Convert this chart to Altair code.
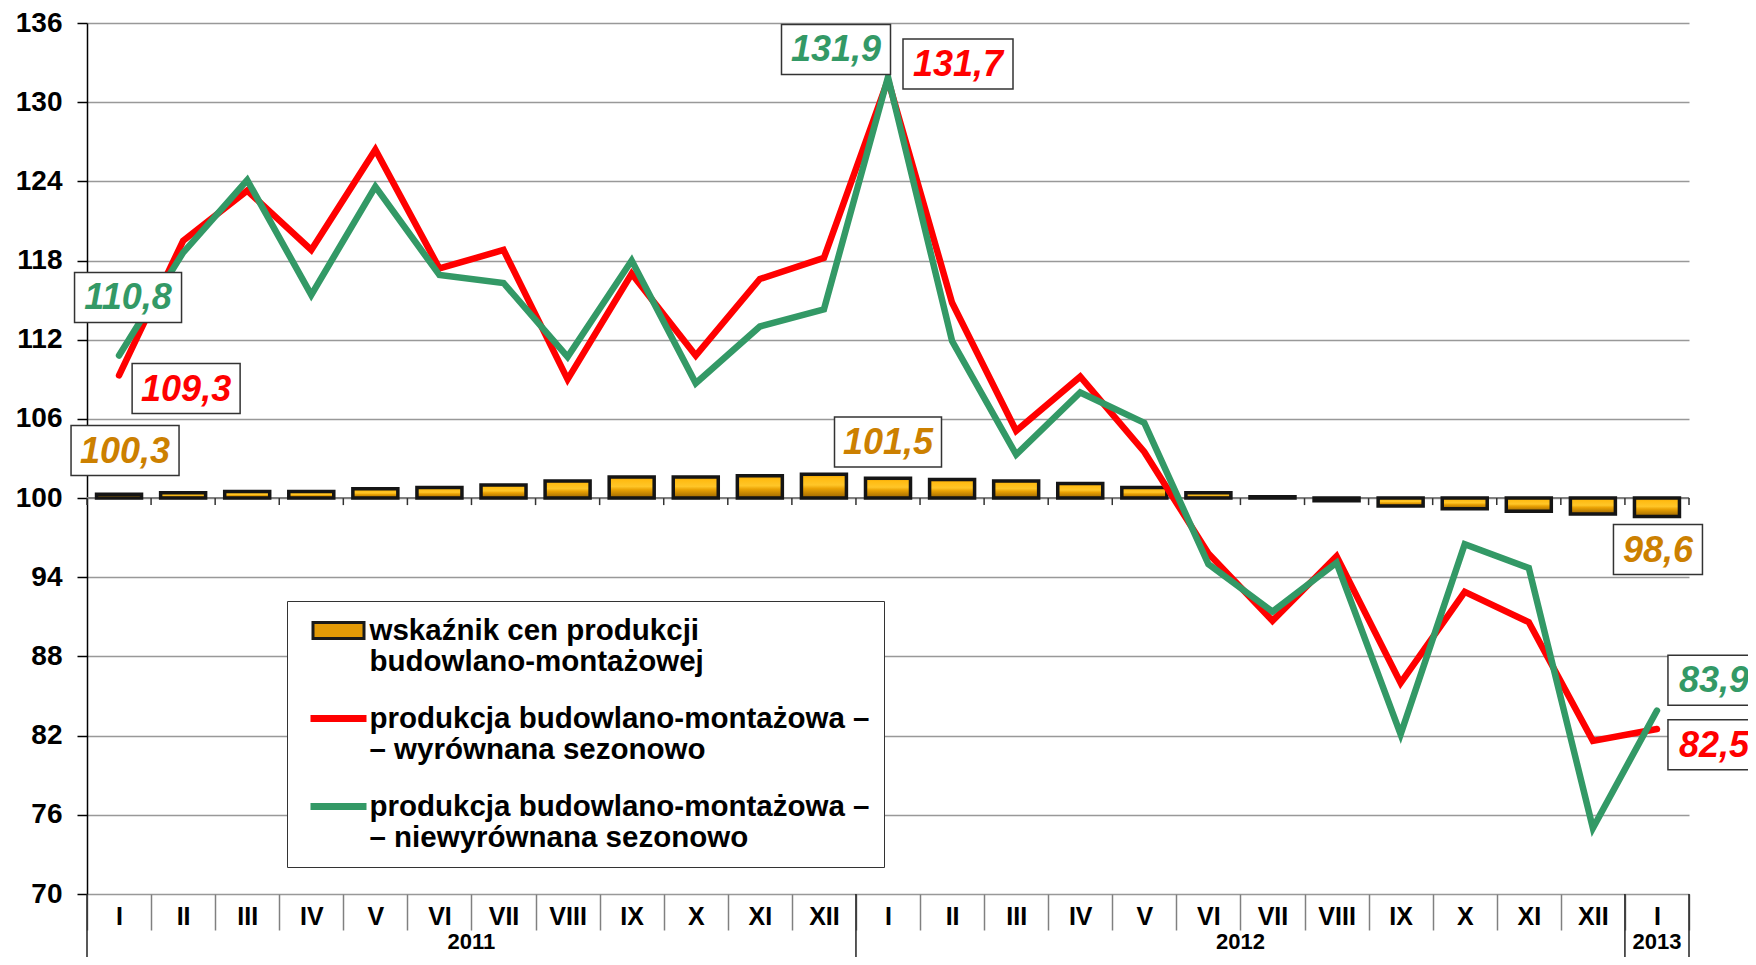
import altair as alt
import pandas as pd

# ---------------- data ----------------
months = ["I", "II", "III", "IV", "V", "VI", "VII", "VIII", "IX", "X", "XI", "XII"] * 2 + ["I"]
years = [2011] * 12 + [2012] * 12 + [2013]
price_index = [100.3, 100.4, 100.5, 100.5, 100.7, 100.8, 101.0, 101.3, 101.6, 101.6, 101.7, 101.8,
               101.5, 101.4, 101.3, 101.1, 100.8, 100.4, 100.1, 99.8, 99.4, 99.2, 99.0, 98.8, 98.6]
sa_prod = [109.3, 119.5, 123.3, 118.8, 126.4, 117.4, 118.8, 109.0, 117.0, 110.8, 116.6, 118.2,
           131.7, 114.8, 105.1, 109.2, 103.5, 95.8, 90.7, 95.6, 86.0, 92.9, 90.6, 81.6, 82.5]
nsa_prod = [110.8, 118.6, 124.1, 115.4, 123.6, 116.9, 116.3, 110.7, 118.0, 108.7, 113.0, 114.3,
            131.9, 111.9, 103.3, 108.0, 105.7, 95.0, 91.4, 95.1, 82.1, 96.5, 94.7, 75.0, 83.9]
keys = [f"{m} {y}" for m, y in zip(months, years)]

series_names = ["wskaźnik cen produkcji|budowlano-montażowej",
                "produkcja budowlano-montażowa –|– wyrównana sezonowo",
                "produkcja budowlano-montażowa –|– niewyrównana sezonowo"]

year_labels = ["2011", "2012", "2013"]
year_label_keys = ["VII 2011", "VII 2012", "I 2013"]
year_start_keys = ["I 2011", "I 2012", "I 2013"]
baseline = [100]

ann_text = ["110,8", "109,3", "100,3", "131,9", "131,7", "101,5", "98,6", "83,9", "82,5"]
ann_key = ["I 2011", "II 2011", "I 2011", "I 2012", "I 2012", "I 2012", "I 2013", "I 2013", "I 2013"]
ann_y = [115.2, 108.3, 103.6, 134.0, 132.9, 104.25, 96.1, 86.2, 81.3]
ann_series = ["nsa", "sa", "price", "nsa", "sa", "price", "price", "nsa", "sa"]

# ---------------- styles ----------------
F = "Liberation Sans"
W, H = 1602, 871
COL = {"price": "#cc8000", "sa": "#ff0000", "nsa": "#339966"}
ann_dx = [9, 3, 6, -52, 70, 0, 1, 57, 57]
ann_w = [107, 108, 108, 109, 110, 107, 89, 92, 92]
ann_h = 50

df = pd.DataFrame({"key": keys, "month": months, "year": years,
                   "price": price_index, "sa": sa_prod, "nsa": nsa_prod})

xscale = alt.Scale(type="band", domain=keys, paddingInner=0, paddingOuter=0)
xaxis = alt.Axis(labelExpr="split(datum.label, ' ')[0]", tickBand="extent", tickSize=36,
                 tickColor="#808080", tickWidth=1.5, domain=False, grid=False, labelAngle=0,
                 labelFont=F, labelFontSize=25, labelFontWeight="bold", labelColor="black",
                 labelPadding=-26, title=None)
yscale = alt.Scale(domain=[70, 136], nice=False, zero=False)
yaxis = alt.Axis(values=list(range(70, 137, 6)), labelFont=F, labelFontSize=28,
                 labelFontWeight="bold", labelColor="black", tickColor="black", tickSize=10,
                 tickWidth=1.5, domainColor="black", domainWidth=1.5, gridColor="#999999",
                 gridWidth=1.5, labelPadding=15, title=None)


def X(band=None):
    if band is None:
        return alt.X("key:N", scale=xscale, axis=xaxis, title=None)
    return alt.X("key:N", scale=xscale, axis=xaxis, title=None, bandPosition=band)


def Y(field):
    return alt.Y(f"{field}:Q", scale=yscale, axis=yaxis, title=None)


layers = []

# axis line at 100 with small ticks
layers.append(alt.Chart(pd.DataFrame({"v": baseline})).mark_rule(color="#808080", strokeWidth=2)
              .encode(y=Y("v")))
layers.append(alt.Chart(df).mark_rule(color="#333333", strokeWidth=1.5)
              .encode(x=X(0), y=alt.datum(100), y2=alt.datum(99.47)))
layers.append(alt.Chart(df.tail(1)).mark_rule(color="#333333", strokeWidth=1.5)
              .encode(x=X(1), y=alt.datum(100), y2=alt.datum(99.47)))

# bars
grad = alt.Gradient(gradient="linear", x1=0, x2=0, y1=0, y2=1,
                    stops=[alt.GradientStop(offset=0, color="#e89b00"),
                           alt.GradientStop(offset=0.15, color="#ffbb12"),
                           alt.GradientStop(offset=0.45, color="#ffc628"),
                           alt.GradientStop(offset=0.6, color="#eaa204"),
                           alt.GradientStop(offset=1, color="#9a6400")])
layers.append(alt.Chart(df).mark_bar(size=45, fill=grad, stroke="#151515", strokeWidth=3.5)
              .encode(x=X(), y=Y("price"), y2=alt.datum(100)))

# lines
layers.append(alt.Chart(df).mark_line(color=COL["sa"], strokeWidth=6.5, strokeCap="round")
              .encode(x=X(), y=Y("sa")))
layers.append(alt.Chart(df).mark_line(color=COL["nsa"], strokeWidth=6.5, strokeCap="round")
              .encode(x=X(), y=Y("nsa")))

# year separators and labels below the axis
layers.append(alt.Chart(pd.DataFrame({"key": year_start_keys})).mark_rule(color="#222222", strokeWidth=1.5)
              .encode(x=X(0), y=alt.datum(70), y2=alt.value(H + 90)))
layers.append(alt.Chart(pd.DataFrame({"key": [keys[-1]]})).mark_rule(color="#222222", strokeWidth=1.5)
              .encode(x=X(1), y=alt.datum(70), y2=alt.value(H + 90)))
ydf = pd.DataFrame({"key": year_label_keys, "year": year_labels})
layers.append(alt.Chart(ydf.head(2)).mark_text(font=F, fontSize=22, fontWeight="bold", color="black",
                                               baseline="middle", dy=48)
              .encode(x=X(0), y=alt.datum(70), text="year:N"))
layers.append(alt.Chart(ydf.tail(1)).mark_text(font=F, fontSize=22, fontWeight="bold", color="black",
                                               baseline="middle", dy=48)
              .encode(x=X(0.5), y=alt.datum(70), text="year:N"))

# legend
leg = alt.Legend(orient="none", legendX=200, legendY=578, padding=14.5, strokeColor="#333333",
                 fillColor="white", labelFont=F, labelFontSize=29.5, labelFontWeight="bold",
                 labelColor="black", labelLimit=800, labelOffset=16, symbolOffset=22,
                 symbolSize=729, symbolStrokeWidth=3, rowPadding=27, title=None,
                 labelExpr="split(datum.label, '|')")
p_bar = "M-1.889,-0.593H1.889V0.593H-1.889Z"
p_line = "M-1.963,-0.148H1.963V0.148H-1.963Z"
layers.append(alt.Chart(pd.DataFrame({"series": series_names})).transform_filter("false")
              .mark_point(filled=True, strokeWidth=3, opacity=1)
              .encode(color=alt.Color("series:N", scale=alt.Scale(domain=series_names,
                                                                 range=["#e39a06", COL["sa"], COL["nsa"]]),
                                      legend=leg),
                      shape=alt.Shape("series:N", scale=alt.Scale(domain=series_names,
                                                                 range=[p_bar, p_line, p_line]),
                                      legend=leg),
                      stroke=alt.Stroke("series:N", scale=alt.Scale(domain=series_names,
                                                                   range=["#1a1a1a", COL["sa"], COL["nsa"]]),
                                        legend=leg)))


# annotation boxes
def box_path(dx, w, h, u=50.0):
    l = (dx - w / 2) / u
    r = (dx + w / 2) / u
    t = h / 2 / u
    return f"M{l:.4f},{-t:.4f}H{r:.4f}V{t:.4f}H{l:.4f}Z"


for i in range(len(ann_text)):
    row = pd.DataFrame({"key": [ann_key[i]], "y": [ann_y[i]], "t": [ann_text[i]]})
    layers.append(alt.Chart(row).mark_point(shape=box_path(ann_dx[i], ann_w[i], ann_h), size=10000,
                                            filled=True, color="white", stroke="#333333",
                                            strokeWidth=1.5, opacity=1)
                  .encode(x=X(), y=Y("y")))
    layers.append(alt.Chart(row).mark_text(font=F, fontSize=36, fontWeight="bold", fontStyle="italic",
                                           color=COL[ann_series[i]], dx=ann_dx[i], dy=1,
                                           align="center", baseline="middle")
                  .encode(x=X(), y=Y("y"), text="t:N"))

chart = (alt.layer(*layers)
         .properties(width=W, height=H, background="white",
                     autosize=alt.AutoSizeParams(type="none"),
                     padding={"left": 79, "top": 15, "right": 59, "bottom": 63})
         .configure_view(stroke=None))

chart.save("out.html", embed_options={"renderer": "svg", "actions": False})
